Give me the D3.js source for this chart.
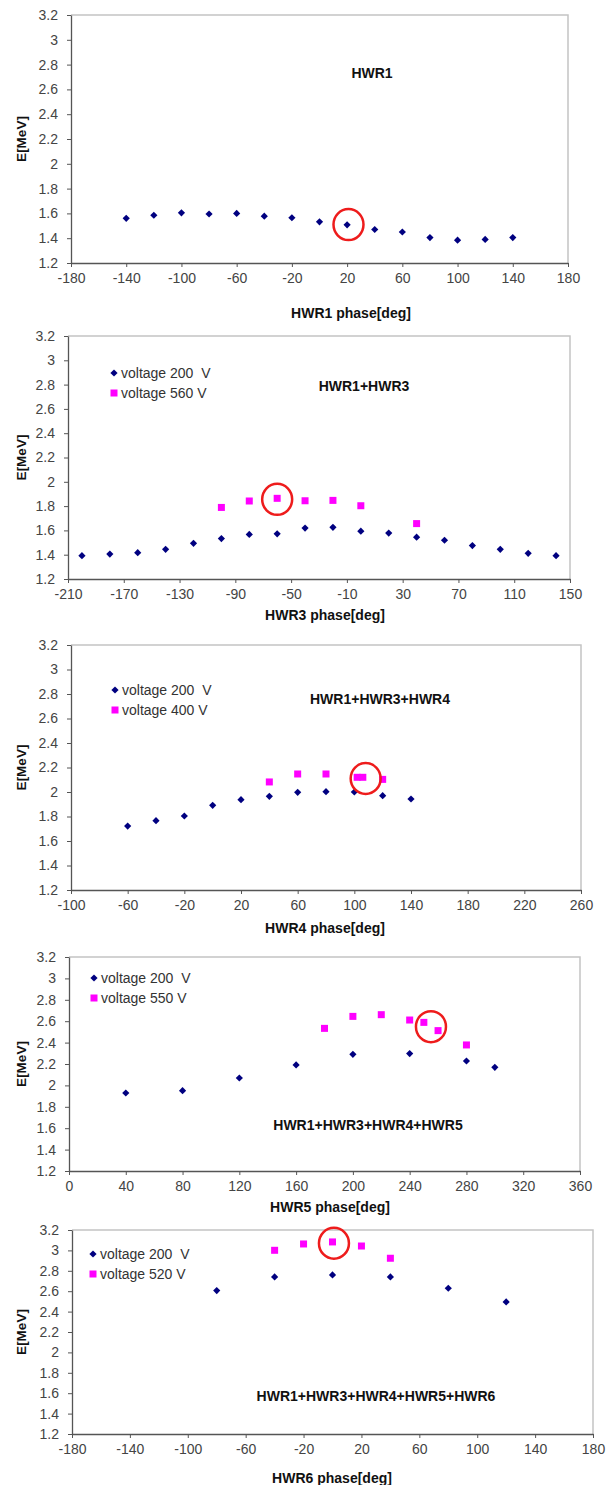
<!DOCTYPE html>
<html>
<head>
<meta charset="utf-8">
<title>HWR phase scans</title>
<script src="https://d3js.org/d3.v7.min.js"></script>
<style>
  body { margin: 0; background: #fff; }
  svg { display: block; font-family: Arial, "Liberation Sans", sans-serif; }
  .tick text { fill: #444; font-size: 14px; }
  .title { font-weight: bold; font-size: 14px; fill: #111; }
  .legend text { font-size: 14px; fill: #333; white-space: pre; }
</style>
</head>
<body>
<div id="holder"></div>
<script>
// energy axis shared by all panels
const eTicks = [1.2, 1.4, 1.6, 1.8, 2, 2.2, 2.4, 2.6, 2.8, 3, 3.2];

// HWR1
const hwr1Phase = [-140, -120, -100, -80, -60, -40, -20, 0, 20, 40, 60, 80, 100, 120, 140];
const hwr1E = [1.56, 1.585, 1.605, 1.595, 1.60, 1.578, 1.565, 1.532, 1.508, 1.47, 1.45, 1.405, 1.384, 1.39, 1.405];
const hwr1Ticks = [-180, -140, -100, -60, -20, 20, 60, 100, 140, 180];
const hwr1Mark = [21, 1.51];

// HWR1+HWR3
const hwr3Phase = [-200, -180, -160, -140, -120, -100, -80, -60, -40, -20, 0, 20, 40, 60, 80, 100, 120, 140];
const hwr3E200 = [1.392, 1.405, 1.417, 1.444, 1.494, 1.533, 1.567, 1.572, 1.619, 1.625, 1.594, 1.578, 1.544, 1.519, 1.475, 1.444, 1.411, 1.392];
const hwr3PhaseHi = [-100, -80, -60, -40, -20, 0, 40];
const hwr3E560 = [1.789, 1.842, 1.864, 1.844, 1.847, 1.803, 1.656];
const hwr3Ticks = [-210, -170, -130, -90, -50, -10, 30, 70, 110, 150];
const hwr3Mark = [-60, 1.856];

// HWR1+HWR3+HWR4
const hwr4Phase = [-60, -40, -20, 0, 20, 40, 60, 80, 100, 120, 140];
const hwr4E200 = [1.722, 1.766, 1.804, 1.891, 1.937, 1.965, 1.997, 2.003, 2.0, 1.97, 1.943];
const hwr4PhaseHi = [40, 60, 80, 102, 106, 120];
const hwr4E400 = [2.082, 2.147, 2.147, 2.12, 2.12, 2.103];
const hwr4Ticks = [-100, -60, -20, 20, 60, 100, 140, 180, 220, 260];
const hwr4Mark = [108, 2.11];

// HWR1+HWR3+HWR4+HWR5
const hwr5Phase = [40, 80, 120, 160, 200, 240, 280, 300];
const hwr5E200 = [1.929, 1.951, 2.069, 2.191, 2.29, 2.297, 2.228, 2.169];
const hwr5PhaseHi = [180, 200, 220, 240, 250, 260, 280];
const hwr5E550 = [2.533, 2.645, 2.661, 2.611, 2.589, 2.512, 2.378];
const hwr5Ticks = [0, 40, 80, 120, 160, 200, 240, 280, 320, 360];
const hwr5Mark = [255, 2.549];

// HWR1+HWR3+HWR4+HWR5+HWR6
const hwr6Phase = [-80, -40, 0, 40, 80, 120];
const hwr6E200 = [2.606, 2.74, 2.76, 2.74, 2.629, 2.495];
const hwr6PhaseHi = [-40, -20, 0, 20, 40];
const hwr6E520 = [3.001, 3.063, 3.083, 3.043, 2.923];
const hwr6Ticks = [-180, -140, -100, -60, -20, 20, 60, 100, 140, 180];
const hwr6Mark = [1, 3.07];

const W = 607, H = 1485;

// panel boxes (pixels) + what goes in them
const panels = [
  {l: 71, r: 568, t: 15, b: 263, ticks: hwr1Ticks, name: "HWR1", nx: 372, ny: 78,
   xlab: "HWR1 phase[deg]", lx: 351, ly: 318,
   lo: {x: hwr1Phase, y: hwr1E}, mark: hwr1Mark},
  {l: 68, r: 570, t: 336, b: 579, ticks: hwr3Ticks, name: "HWR1+HWR3", nx: 364, ny: 391,
   xlab: "HWR3 phase[deg]", lx: 325, ly: 620,
   lo: {x: hwr3Phase, y: hwr3E200}, hi: {x: hwr3PhaseHi, y: hwr3E560}, mark: hwr3Mark,
   leg: {x: 114, y: 373, v: ["voltage 200  V", "voltage 560 V"]}},
  {l: 71, r: 581, t: 645, b: 890, ticks: hwr4Ticks, name: "HWR1+HWR3+HWR4", nx: 380, ny: 704,
   xlab: "HWR4 phase[deg]", lx: 325, ly: 933,
   lo: {x: hwr4Phase, y: hwr4E200}, hi: {x: hwr4PhaseHi, y: hwr4E400}, mark: hwr4Mark,
   leg: {x: 115, y: 690, v: ["voltage 200  V", "voltage 400 V"]}},
  {l: 69, r: 580, t: 957, b: 1171, ticks: hwr5Ticks, name: "HWR1+HWR3+HWR4+HWR5", nx: 368, ny: 1130,
   xlab: "HWR5 phase[deg]", lx: 330, ly: 1212,
   lo: {x: hwr5Phase, y: hwr5E200}, hi: {x: hwr5PhaseHi, y: hwr5E550}, mark: hwr5Mark,
   leg: {x: 94, y: 978, v: ["voltage 200  V", "voltage 550 V"]}},
  {l: 72, r: 593, t: 1230, b: 1434, ticks: hwr6Ticks, name: "HWR1+HWR3+HWR4+HWR5+HWR6", nx: 376, ny: 1401,
   xlab: "HWR6 phase[deg]", lx: 332, ly: 1483,
   lo: {x: hwr6Phase, y: hwr6E200}, hi: {x: hwr6PhaseHi, y: hwr6E520}, mark: hwr6Mark,
   leg: {x: 93, y: 1254, v: ["voltage 200  V", "voltage 520 V"]}}
];

const svg = d3.select("#holder").append("svg")
  .attr("width", W)
  .attr("height", H);

const diamond = "M0,-3.6L3.6,0L0,3.6L-3.6,0Z";
const navy = "#000080";
const pink = "#ff00ff";
// plain hyphen minus like the excel original
const fmt = d => String(d);

panels.forEach(p => {
  const x = d3.scaleLinear().domain([p.ticks[0], p.ticks[p.ticks.length - 1]]).range([p.l, p.r]);
  const y = d3.scaleLinear().domain([1.2, 3.2]).range([p.b, p.t]);
  const g = svg.append("g");

  // light frame on top/right
  g.append("path")
    .attr("d", `M${p.l},${p.t}H${p.r}V${p.b}`)
    .attr("fill", "none")
    .attr("stroke", "#c4c4c4")
    .attr("stroke-width", 1.5);

  const xAxis = g.append("g")
    .attr("transform", "translate(0," + p.b + ")")
    .call(d3.axisBottom(x).tickValues(p.ticks).tickSize(4).tickSizeOuter(0).tickPadding(6).tickFormat(fmt));
  const yAxis = g.append("g")
    .attr("transform", "translate(" + p.l + ",0)")
    .call(d3.axisLeft(y).tickValues(eTicks).tickSize(4).tickSizeOuter(0).tickPadding(9).tickFormat(fmt));
  [xAxis, yAxis].forEach(a => {
    a.attr("font-family", null).attr("font-size", null);
    a.select(".domain").attr("stroke", "#555").attr("stroke-width", 1.3);
    a.selectAll(".tick line").attr("stroke", "#555");
  });

  // y title
  g.append("text")
    .attr("class", "title")
    .attr("transform", `translate(26,${(p.t + p.b) / 2}) rotate(-90)`)
    .attr("text-anchor", "middle")
    .style("font-size", "13.5px")
    .text("E[MeV]");

  // x title
  g.append("text")
    .attr("class", "title")
    .attr("x", p.lx).attr("y", p.ly)
    .attr("text-anchor", "middle")
    .text(p.xlab);

  // panel name
  g.append("text")
    .attr("class", "title")
    .attr("x", p.nx).attr("y", p.ny)
    .attr("text-anchor", "middle")
    .text(p.name);

  // 200 V series
  g.selectAll("path.lo")
    .data(d3.zip(p.lo.x, p.lo.y))
    .enter().append("path")
    .attr("class", "lo")
    .attr("d", diamond)
    .attr("fill", navy)
    .attr("transform", d => `translate(${x(d[0])},${y(d[1])})`);

  if (p.hi) {
    g.selectAll("rect.hi")
      .data(d3.zip(p.hi.x, p.hi.y))
      .enter().append("rect")
      .attr("class", "hi")
      .attr("x", d => x(d[0]) - 3.5)
      .attr("y", d => y(d[1]) - 3.5)
      .attr("width", 7).attr("height", 7)
      .attr("fill", pink);
  }

  // red ring
  g.append("ellipse")
    .attr("cx", x(p.mark[0]))
    .attr("cy", y(p.mark[1]))
    .attr("rx", 15).attr("ry", 15.5)
    .attr("fill", "none")
    .attr("stroke", "#ee1c1c")
    .attr("stroke-width", 2.5);

  // legend
  if (p.leg) {
    const lg = g.append("g").attr("class", "legend");
    lg.append("path").attr("d", diamond).attr("fill", navy)
      .attr("transform", `translate(${p.leg.x},${p.leg.y})`);
    lg.append("rect").attr("x", p.leg.x - 3.5).attr("y", p.leg.y + 20 - 3.5)
      .attr("width", 7).attr("height", 7).attr("fill", pink);
    p.leg.v.forEach((t, i) => {
      lg.append("text")
        .attr("x", p.leg.x + 7)
        .attr("y", p.leg.y + i * 20 + 5)
        .attr("xml:space", "preserve")
        .text(t);
    });
  }
});
</script>
</body>
</html>
